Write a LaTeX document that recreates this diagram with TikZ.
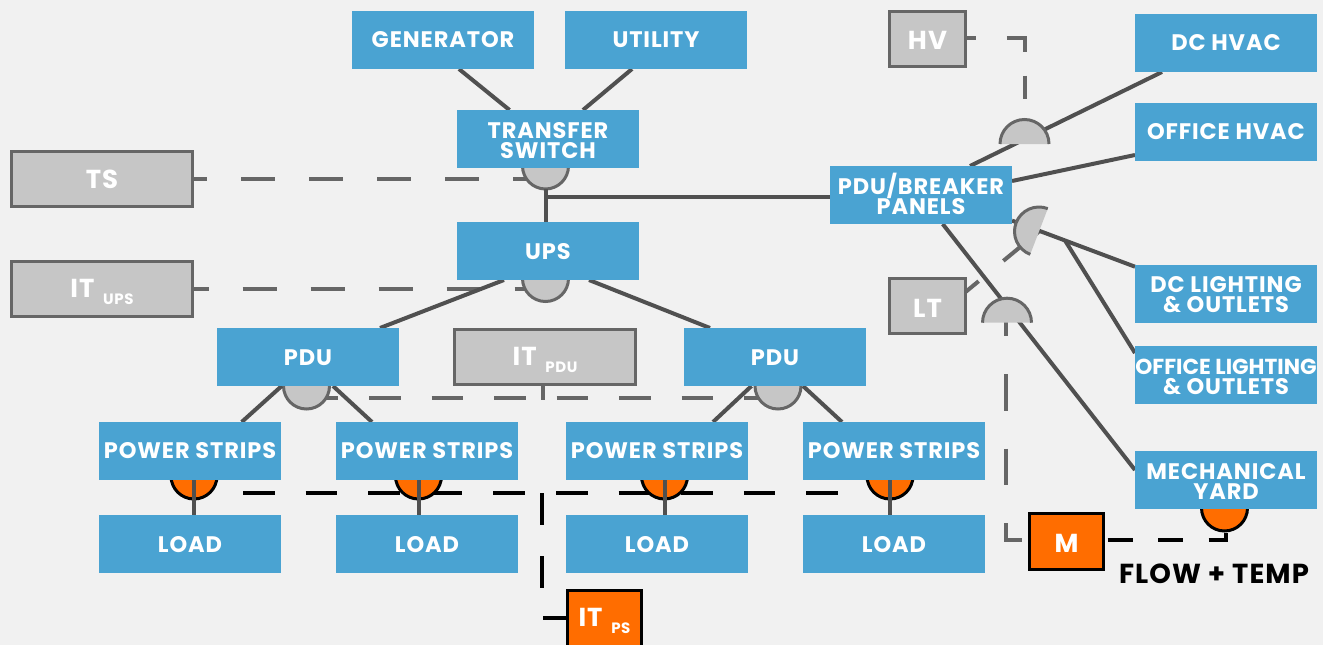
\documentclass[tikz,border=0pt]{standalone}
\usepackage{fontspec}
\setmainfont{Poppins}[LetterSpace=4]
\usetikzlibrary{calc}
\pgfdeclarelayer{ground}\pgfdeclarelayer{dashes}\pgfdeclarelayer{under}\pgfdeclarelayer{sensors}\pgfdeclarelayer{over}
\pgfsetlayers{ground,dashes,under,sensors,over,main}
\definecolor{bgc}{HTML}{F1F1F1}
\definecolor{bluec}{HTML}{4AA3D2}
\definecolor{grayc}{HTML}{C6C6C6}
\definecolor{edgec}{HTML}{666666}
\definecolor{linec}{HTML}{505050}
\definecolor{orangec}{HTML}{FF6D00}
\newcommand\halfdisc[2]{%
  \fill[grayc] (#1) ++(#2:24.5) arc[start angle=#2,delta angle=180,radius=24.5] -- cycle;
  \draw[edgec,line width=3pt] (#1) ++(#2:24.5) arc[start angle=#2,delta angle=180,radius=24.5];}
\newcommand\mv[2]{\raisebox{#1}[\height][\depth]{#2}}
\newcommand\lbl[2]{\mv{-3pt}{#1\,\,\raisebox{-7pt}{\fontsize{15}{15}\selectfont #2}}}
\tikzset{
  x=1pt,y=-1pt,
  bluebox/.style={fill=bluec,text=white,inner sep=0pt,outer sep=0pt,minimum width=182pt,minimum height=58pt,align=center,
    font=\bfseries\fontsize{22.5}{20}\selectfont},
  graybox/.style={fill=grayc,draw=edgec,line width=3pt,text=white,inner sep=0pt,outer sep=0pt,minimum height=55pt,align=center,
    font=\bfseries\fontsize{26}{26}\selectfont},
  orangebox/.style={fill=orangec,draw=black,line width=3pt,text=white,inner sep=0pt,outer sep=0pt,minimum width=74pt,minimum height=56pt,align=center,
    font=\bfseries\fontsize{26}{26}\selectfont},
  wire/.style={linec,line width=4pt},
  graydash/.style={edgec,line width=4pt},
  blackdash/.style={black,line width=4pt},
  graysensor/.style={circle,fill=grayc,draw=edgec,line width=3pt,inner sep=0pt,outer sep=0pt,minimum size=46pt},
  orangesensor/.style={circle,fill=orangec,draw=black,line width=3pt,inner sep=0pt,outer sep=0pt,minimum size=46pt},
}
\begin{document}
\begin{tikzpicture}
\useasboundingbox (0,0) rectangle (1323,645);
\begin{pgfonlayer}{ground}
  \fill[bgc] (0,0) rectangle (1323,645);
\end{pgfonlayer}
% blue boxes
\node[bluebox] (gen) at (443,40) {GENERATOR};
\node[bluebox] (util) at (656,40) {UTILITY};
\node[bluebox] (ts) at (548,139) {\mv{-2pt}{TRANSFER}\\\mv{-2pt}{SWITCH}};
\node[bluebox] (ups) at (548,251) {\mv{-1pt}{UPS}};
\node[bluebox] (pduL) at (308,357) {\mv{-1pt}{PDU}};
\node[bluebox] (pduR) at (775,357) {\mv{-1pt}{PDU}};
\node[bluebox] (psA) at (190,451) {POWER STRIPS};
\node[bluebox] (psB) at (427,451) {POWER STRIPS};
\node[bluebox] (psC) at (657,451) {POWER STRIPS};
\node[bluebox] (psD) at (894,451) {POWER STRIPS};
\node[bluebox] (loadA) at (190,544) {\mv{-1pt}{LOAD}};
\node[bluebox] (loadB) at (427,544) {\mv{-1pt}{LOAD}};
\node[bluebox] (loadC) at (657,544) {\mv{-1pt}{LOAD}};
\node[bluebox] (loadD) at (894,544) {\mv{-1pt}{LOAD}};
\node[bluebox] (brk) at (921,195) {PDU/BREAKER\\\mv{2pt}{PANELS}};
\node[bluebox] (dchvac) at (1226,43) {DC HVAC};
\node[bluebox] (offhvac) at (1226,132) {OFFICE HVAC};
\node[bluebox] (dclight) at (1226,294) {\mv{-1pt}{DC LIGHTING}\\\mv{-1pt}{\& OUTLETS}};
\node[bluebox] (offlight) at (1226,375) {\mv{-2pt}{\makebox[170pt][c]{\addfontfeature{LetterSpace=0}\fontsize{21.7}{20}\selectfont OFFICE LIGHTING}}\\\mv{-2pt}{\& OUTLETS}};
\node[bluebox] (mech) at (1226,480) {\mv{-2pt}{MECHANICAL}\\\mv{-2pt}{YARD}};
% gray boxes
\node[graybox,minimum width=181pt] (tsm) at (102,179) {TS};
\node[graybox,minimum width=181pt] (itups) at (102,289) {\lbl{IT}{UPS}};
\node[graybox,minimum width=181pt] (itpdu) at (545,357) {\lbl{IT}{PDU}};
\node[graybox,minimum width=76pt] (hv) at (927.5,39) {\mv{-1pt}{HV}};
\node[graybox,minimum width=76pt] (lt) at (927.5,306) {\mv{-2pt}{LT}};
% orange boxes
\node[orangebox] (m) at (1066.5,541.5) {\mv{-2pt}{M}};
\node[orangebox] (itps) at (604.5,618) {\lbl{IT}{PS}};
\node[font=\bfseries\fontsize{27.5}{27.5}\selectfont,text=black,inner sep=0pt] (flow) at (1214,574) {FLOW + TEMP};
% sensor reference points
\coordinate (shv) at (1024.5,144);
\coordinate (slt) at (1007,322.7);
\coordinate (slight) at (1039,231.5);
\coordinate (tap) at (545.5,196.5);
\coordinate (busL) at (243,493);
\coordinate (busR) at (841,493);
\coordinate (busJ) at (542,493);
\coordinate (pbar) at (306.5,397.7);
\coordinate (qbar) at (778,397.7);
\coordinate (mtop) at (1006,299.5);
\coordinate (mcor) at (1006,540);
\coordinate (mend) at (1022,540);
\coordinate (fcor) at (1226,540);
\coordinate (hvcor) at (1025,38);
\coordinate (dla) at ([yshift=-25.6pt]brk.east);
\coordinate (dlb) at ([yshift=27.3pt]dclight.west);
\coordinate (olb) at ($(dla)!0.431!(dlb)$);
\begin{pgfonlayer}{dashes}
  \draw[graydash,dash pattern=on 34pt off 34pt,dash phase=19.3pt] (tsm.east) -- (545.5,179);
  \draw[graydash,dash pattern=on 34pt off 34pt,dash phase=19.3pt] (194,288.5) -- (545.5,288.5);
  \draw[graydash,dash pattern=on 31.5pt off 31pt] (pbar) -- (qbar);
  \draw[graydash] (542.6,386) -- (542.6,399.5);
  \draw[graydash,dash pattern=on 10pt off 31.3pt on 31.7pt off 24pt on 23pt off 100pt] (hv.east |- hvcor) -- (hvcor) -- (shv -| hvcor);
  \draw[graydash,dash pattern=on 17pt off 32pt on 100pt] (lt.east |- 0,292) -- (slight);
  \draw[graydash,dash pattern=on 36.5pt off 38pt] (mtop) -- (mcor) -- (mend);
  \draw[blackdash,dash pattern=on 31.5pt off 31.1pt] (busL) -- (busR);
  \draw[blackdash,dash pattern=on 31.5pt off 31.5pt] (busJ) -- (busJ |- itps.west) -- (itps.west);
  \draw[blackdash,dash pattern=on 25pt off 25.5pt] ([xshift=4pt]m.east |- fcor) -- (fcor) -- ([yshift=10pt]fcor);
\end{pgfonlayer}
\begin{pgfonlayer}{under}
  \draw[wire] ([xshift=49pt]brk.north) -- ([xshift=-64pt]dchvac.south);
  \draw[wire] (dla) -- (dlb);
  \draw[wire] ([xshift=21.7pt]brk.south) -- ([yshift=10pt]mech.west);
\end{pgfonlayer}
\begin{pgfonlayer}{sensors}
  \node[graysensor] (sts) at (545.5,166) {};
  \node[graysensor] (sups) at (545.5,278.5) {};
  \node[graysensor] (spl) at (306.5,386) {};
  \node[graysensor] (spr) at (778,386) {};
  \node[orangesensor] (soa) at (194,476) {};
  \node[orangesensor] (sob) at (418.5,476) {};
  \node[orangesensor] (soc) at (664.5,476) {};
  \node[orangesensor] (sod) at (890,476) {};
  \node[orangesensor] (som) at (1224.5,508) {};
  \halfdisc{shv}{180}
  \halfdisc{slt}{180}
  \halfdisc{slight}{111}
\end{pgfonlayer}
\begin{pgfonlayer}{over}
  \draw[wire] ([xshift=16pt]gen.south) -- ([xshift=-38.5pt]ts.north);
  \draw[wire] ([xshift=-24pt]util.south) -- ([xshift=35pt]ts.north);
  \draw[wire] (sts.south) -- (sups.north -| sts.south);
  \draw[wire] (tap) -- (tap -| brk.west);
  \draw[wire] ([xshift=-44pt]ups.south) -- ([xshift=72pt]pduL.north);
  \draw[wire] ([xshift=41pt]ups.south) -- ([xshift=-65pt]pduR.north);
  \draw[wire] ([xshift=-26.3pt]pduL.south) -- ([xshift=51.7pt]psA.north);
  \draw[wire] ([xshift=25pt]pduL.south) -- ([xshift=-55pt]psB.north);
  \draw[wire] ([xshift=-23.5pt]pduR.south) -- ([xshift=56pt]psC.north);
  \draw[wire] ([xshift=28pt]pduR.south) -- ([xshift=-52pt]psD.north);
  \draw[wire] (psA.south -| soa) -- (loadA.north -| soa);
  \draw[wire] (psB.south -| sob) -- (loadB.north -| sob);
  \draw[wire] (psC.south -| soc) -- (loadC.north -| soc);
  \draw[wire] (psD.south -| sod) -- (loadD.north -| sod);
  \draw[wire] ([yshift=14pt]brk.east) -- ([yshift=-23pt]offhvac.west);
  \draw[wire] (olb) -- ([yshift=22pt]offlight.west);
\end{pgfonlayer}
\end{tikzpicture}
\end{document}
